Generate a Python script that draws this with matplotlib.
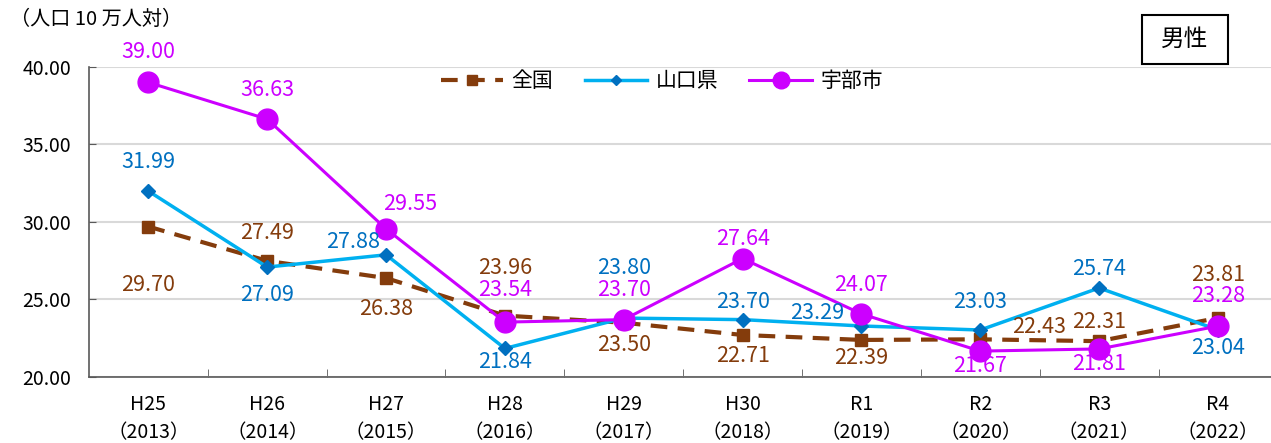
import matplotlib.pyplot as plt
from matplotlib.patches import Rectangle
from matplotlib.ticker import MultipleLocator

plt.rcParams['font.family'] = ['Noto Sans CJK JP', 'DejaVu Sans']

years = ['H25\n（2013）', 'H26\n（2014）', 'H27\n（2015）', 'H28\n（2016）', 'H29\n（2017）',
         'H30\n（2018）', 'R1\n（2019）', 'R2\n（2020）', 'R3\n（2021）', 'R4\n（2022）']
zenkoku = [29.70, 27.49, 26.38, 23.96, 23.50, 22.71, 22.39, 22.43, 22.31, 23.81]
yamaguchi = [31.99, 27.09, 27.88, 21.84, 23.80, 23.70, 23.29, 23.03, 25.74, 23.04]
ube = [39.00, 36.63, 29.55, 23.54, 23.70, 27.64, 24.07, 21.67, 21.81, 23.28]

# label placement: (dx points, dy points)
zen_off = [(0, -42), (0, 20), (0, -22), (0, 34), (0, -16), (0, -15), (0, -13), (42, 9), (0, 14), (0, 31)]
yam_off = [(0, 21), (0, -20), (-24, 9), (0, -10), (0, 36), (0, 13), (-32, 9), (0, 20), (0, 14), (0, -13)]
ube_off = [(0, 22), (0, 21), (17, 18), (0, 23), (0, 21), (0, 14), (0, 21), (0, -11), (0, -11), (0, 22)]

brown = '#843C0C'
sky = '#00B0F0'
blue = '#0070C0'
mag = '#CC00FF'

fig = plt.figure(figsize=(12.71, 4.43), dpi=100)
ax = fig.add_axes([0.070, 0.149, 0.935, 0.700])
x = list(range(len(years)))

ax.plot(x, zenkoku, color=brown, lw=3, ls=(0, (4, 2.5)), marker='s', ms=9, label='全国', zorder=3, clip_on=False)
ax.plot(x, yamaguchi, color=sky, lw=2.5, marker='D', ms=7, mfc=blue, mec=blue, label='山口県', zorder=4, clip_on=False)
ax.plot(x, ube, color=mag, lw=2.2, marker='o', ms=15, label='宇部市', zorder=5, clip_on=False)

for vals, offs, col in [(zenkoku, zen_off, brown), (yamaguchi, yam_off, blue), (ube, ube_off, mag)]:
    for i, (v, o) in enumerate(zip(vals, offs)):
        ax.annotate(f'{v:.2f}', (i, v), xytext=o, textcoords='offset points',
                    ha='center', va='center', color=col, fontsize=15.5, zorder=6,
                    annotation_clip=False)

ax.set_xlim(-0.5, 9.5)
ax.set_ylim(20, 40)
ax.yaxis.set_major_locator(MultipleLocator(5))
ax.yaxis.set_major_formatter(lambda v, p: f'{v:.2f}')
ax.set_xticks(x)
ax.set_xticklabels(years, fontsize=14, linespacing=1.45)
ax.set_xticks([i + 0.5 for i in x], minor=True)
ax.tick_params(axis='x', which='major', length=0, pad=12)
ax.tick_params(axis='x', which='minor', direction='in', length=6, color='#595959')
ax.tick_params(axis='y', direction='in', length=5, color='#595959', labelsize=14, pad=13)
ax.grid(axis='y', color='#D9D9D9', lw=1.5)
ax.set_axisbelow(True)
for s in ['top', 'right']:
    ax.spines[s].set_visible(False)
for s in ['left', 'bottom']:
    ax.spines[s].set_color('#595959')
    ax.spines[s].set_linewidth(1.2)

leg = ax.legend(loc='center', bbox_to_anchor=(0.482, 0.955), ncol=3, frameon=False,
                fontsize=15, handlelength=3.0, columnspacing=1.5, handletextpad=0.4,
                markerscale=0.8)

fig.text(0.008, 0.955, '（人口 10 万人対）', fontsize=14.5, va='center', ha='left')
fig.patches.append(Rectangle((0.8985, 0.8555), 0.0677, 0.1106, transform=fig.transFigure,
                             fc='white', ec='black', lw=1.5, figure=fig))
fig.text(0.9323, 0.9108, '男性', fontsize=17, ha='center', va='center')

fig.savefig('out.png', dpi=100)
